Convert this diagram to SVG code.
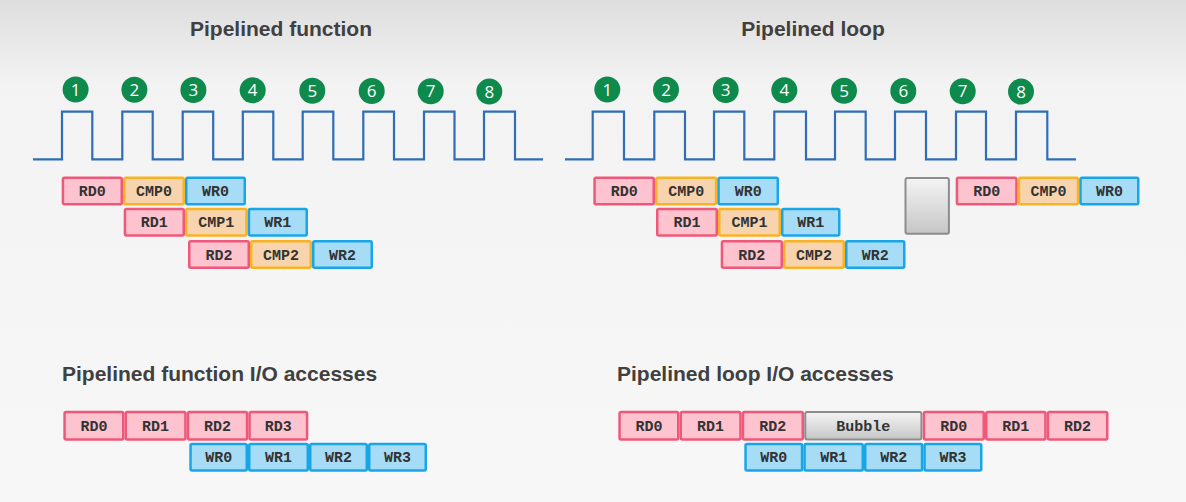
<svg xmlns="http://www.w3.org/2000/svg" width="1186" height="502" viewBox="0 0 1186 502">
<defs>
<linearGradient id="bg" x1="0" y1="0" x2="0" y2="1">
<stop offset="0" stop-color="#dedede"/>
<stop offset="0.17" stop-color="#f3f3f3"/>
<stop offset="1" stop-color="#f7f7f7"/>
</linearGradient>
<linearGradient id="gray" x1="0" y1="0" x2="0" y2="1">
<stop offset="0" stop-color="#f4f4f4"/>
<stop offset="1" stop-color="#c6c6c6"/>
</linearGradient>
<style>
.title{font-family:"Liberation Sans",Arial,sans-serif;font-weight:bold;font-size:21px;fill:#404040}
.clk{fill:none;stroke:#2f6db5;stroke-width:2.2;stroke-linejoin:miter}
.num{fill:#0e8a4c}
.numt{font-family:"Open Sans","Liberation Sans",sans-serif;font-size:17px;fill:#ffffff;text-anchor:middle}
.rd{fill:#fdc3cf;stroke:#f0587a;stroke-width:2.5}
.cmp{fill:#f8d4ae;stroke:#f8b324;stroke-width:2.5}
.wr{fill:#a6dcf5;stroke:#18a6e8;stroke-width:2.5}
.bub{fill:url(#gray);stroke:#8c8c8c;stroke-width:2}
.lbl{font-family:"Liberation Mono","Courier New",monospace;font-weight:bold;font-size:15px;fill:#333333;text-anchor:middle}
</style>
</defs>
<rect x="0" y="0" width="1186" height="502" fill="url(#bg)"/>

<g id="titles">
<text class="title" x="281" y="36" text-anchor="middle">Pipelined function</text>
<text class="title" x="813" y="36" text-anchor="middle">Pipelined loop</text>
<text class="title" x="62" y="381">Pipelined function I/O accesses</text>
<text class="title" x="617" y="381">Pipelined loop I/O accesses</text>
</g>

<g id="clock-left">
<polyline class="clk" points="33,159.3 62,159.3 62,111.7 92.3,111.7 92.3,159.3 122.3,159.3 122.3,111.7 152.7,111.7 152.7,159.3 182.7,159.3 182.7,111.7 213.2,111.7 213.2,159.3 242.8,159.3 242.8,111.7 273.3,111.7 273.3,159.3 302.7,159.3 302.7,111.7 333.3,111.7 333.3,159.3 363.3,159.3 363.3,111.7 394,111.7 394,159.3 424,159.3 424,111.7 454.5,111.7 454.5,159.3 484,159.3 484,111.7 515,111.7 515,159.3 543,159.3"/>
</g>
<g id="clock-right">
<polyline class="clk" points="565,159.3 592.7,159.3 592.7,111.7 624,111.7 624,159.3 654.3,159.3 654.3,111.7 685,111.7 685,159.3 714,159.3 714,111.7 744.3,111.7 744.3,159.3 774.3,159.3 774.3,111.7 806,111.7 806,159.3 835,159.3 835,111.7 865.7,111.7 865.7,159.3 895,159.3 895,111.7 926,111.7 926,159.3 956,159.3 956,111.7 986,111.7 986,159.3 1016,159.3 1016,111.7 1047.3,111.7 1047.3,159.3 1076,159.3"/>
</g>

<g id="cycles-left">
<g id="cl1"><circle class="num" cx="75.6" cy="89.5" r="13"/><text class="numt" x="75.6" y="95.5">1</text></g>
<g id="cl2"><circle class="num" cx="134.4" cy="89.7" r="13"/><text class="numt" x="134.4" y="95.7">2</text></g>
<g id="cl3"><circle class="num" cx="193.4" cy="90" r="13"/><text class="numt" x="193.4" y="96">3</text></g>
<g id="cl4"><circle class="num" cx="252.7" cy="90.3" r="13"/><text class="numt" x="252.7" y="96.3">4</text></g>
<g id="cl5"><circle class="num" cx="312.3" cy="90.8" r="13"/><text class="numt" x="312.3" y="96.8">5</text></g>
<g id="cl6"><circle class="num" cx="371.7" cy="91" r="13"/><text class="numt" x="371.7" y="97">6</text></g>
<g id="cl7"><circle class="num" cx="430.7" cy="91.3" r="13"/><text class="numt" x="430.7" y="97.3">7</text></g>
<g id="cl8"><circle class="num" cx="489.3" cy="91.6" r="13"/><text class="numt" x="489.3" y="97.6">8</text></g>
</g>
<g id="cycles-right">
<g id="cr1"><circle class="num" cx="607.3" cy="89.5" r="13"/><text class="numt" x="607.3" y="95.5">1</text></g>
<g id="cr2"><circle class="num" cx="666" cy="89.7" r="13"/><text class="numt" x="666" y="95.7">2</text></g>
<g id="cr3"><circle class="num" cx="725.7" cy="90" r="13"/><text class="numt" x="725.7" y="96">3</text></g>
<g id="cr4"><circle class="num" cx="784.3" cy="90.3" r="13"/><text class="numt" x="784.3" y="96.3">4</text></g>
<g id="cr5"><circle class="num" cx="844" cy="90.8" r="13"/><text class="numt" x="844" y="96.8">5</text></g>
<g id="cr6"><circle class="num" cx="903.3" cy="91" r="13"/><text class="numt" x="903.3" y="97">6</text></g>
<g id="cr7"><circle class="num" cx="962.7" cy="91.3" r="13"/><text class="numt" x="962.7" y="97.3">7</text></g>
<g id="cr8"><circle class="num" cx="1021" cy="91.6" r="13"/><text class="numt" x="1021" y="97.6">8</text></g>
</g>

<g id="pf-rd0"><rect class="rd" x="62.95" y="177.75" width="58.8" height="26.5" rx="1.5"/><text class="lbl" x="92.35" y="196">RD0</text></g>
<g id="pf-cmp0"><rect class="cmp" x="124.25" y="177.75" width="59.5" height="26.5" rx="1.5"/><text class="lbl" x="154" y="196">CMP0</text></g>
<g id="pf-wr0"><rect class="wr" x="186.25" y="177.75" width="58.5" height="26.5" rx="1.5"/><text class="lbl" x="215.5" y="196">WR0</text></g>
<g id="pf-rd1"><rect class="rd" x="124.95" y="208.95" width="58.8" height="26.5" rx="1.5"/><text class="lbl" x="154.35" y="227.2">RD1</text></g>
<g id="pf-cmp1"><rect class="cmp" x="186.25" y="208.95" width="60.2" height="26.5" rx="1.5"/><text class="lbl" x="216.35" y="227.2">CMP1</text></g>
<g id="pf-wr1"><rect class="wr" x="248.95" y="208.95" width="57.8" height="26.5" rx="1.5"/><text class="lbl" x="277.85" y="227.2">WR1</text></g>
<g id="pf-rd2"><rect class="rd" x="189.25" y="241.25" width="59.5" height="26.5" rx="1.5"/><text class="lbl" x="219" y="259.5">RD2</text></g>
<g id="pf-cmp2"><rect class="cmp" x="251.25" y="241.25" width="59.5" height="26.5" rx="1.5"/><text class="lbl" x="281" y="259.5">CMP2</text></g>
<g id="pf-wr2"><rect class="wr" x="313.25" y="241.25" width="58.5" height="26.5" rx="1.5"/><text class="lbl" x="342.5" y="259.5">WR2</text></g>

<g id="pl-rd0"><rect class="rd" x="594.55" y="177.75" width="59.2" height="26.5" rx="1.5"/><text class="lbl" x="624.15" y="196">RD0</text></g>
<g id="pl-cmp0"><rect class="cmp" x="656.25" y="177.75" width="59.8" height="26.5" rx="1.5"/><text class="lbl" x="686.15" y="196">CMP0</text></g>
<g id="pl-wr0"><rect class="wr" x="718.55" y="177.75" width="59.2" height="26.5" rx="1.5"/><text class="lbl" x="748.15" y="196">WR0</text></g>
<g id="pl-rd1"><rect class="rd" x="657.25" y="208.95" width="59.5" height="26.5" rx="1.5"/><text class="lbl" x="687" y="227.2">RD1</text></g>
<g id="pl-cmp1"><rect class="cmp" x="719.25" y="208.95" width="60.5" height="26.5" rx="1.5"/><text class="lbl" x="749.5" y="227.2">CMP1</text></g>
<g id="pl-wr1"><rect class="wr" x="782.25" y="208.95" width="57" height="26.5" rx="1.5"/><text class="lbl" x="810.75" y="227.2">WR1</text></g>
<g id="pl-rd2"><rect class="rd" x="721.95" y="241.25" width="59.8" height="26.5" rx="1.5"/><text class="lbl" x="751.85" y="259.5">RD2</text></g>
<g id="pl-cmp2"><rect class="cmp" x="784.25" y="241.25" width="59.5" height="26.5" rx="1.5"/><text class="lbl" x="814" y="259.5">CMP2</text></g>
<g id="pl-wr2"><rect class="wr" x="846.25" y="241.25" width="58" height="26.5" rx="1.5"/><text class="lbl" x="875.25" y="259.5">WR2</text></g>
<g id="pl-bubble"><rect class="bub" x="905.5" y="178" width="43.4" height="55.8" rx="2"/></g>
<g id="pl-rd0b"><rect class="rd" x="956.95" y="177.75" width="59.5" height="26.5" rx="1.5"/><text class="lbl" x="986.7" y="196">RD0</text></g>
<g id="pl-cmp0b"><rect class="cmp" x="1018.95" y="177.75" width="59.1" height="26.5" rx="1.5"/><text class="lbl" x="1048.5" y="196">CMP0</text></g>
<g id="pl-wr0b"><rect class="wr" x="1080.55" y="177.75" width="57.7" height="26.5" rx="1.5"/><text class="lbl" x="1109.4" y="196">WR0</text></g>

<g id="fio-rd0"><rect class="rd" x="64.55" y="411.95" width="58.7" height="27.5" rx="1.5"/><text class="lbl" x="93.9" y="430.7">RD0</text></g>
<g id="fio-rd1"><rect class="rd" x="125.75" y="411.95" width="59.7" height="27.5" rx="1.5"/><text class="lbl" x="155.6" y="430.7">RD1</text></g>
<g id="fio-rd2"><rect class="rd" x="187.95" y="411.95" width="59.1" height="27.5" rx="1.5"/><text class="lbl" x="217.5" y="430.7">RD2</text></g>
<g id="fio-rd3"><rect class="rd" x="249.55" y="411.95" width="57.5" height="27.5" rx="1.5"/><text class="lbl" x="278.3" y="430.7">RD3</text></g>
<g id="fio-wr0"><rect class="wr" x="190.55" y="443.95" width="56.2" height="26.5" rx="1.5"/><text class="lbl" x="218.65" y="462.2">WR0</text></g>
<g id="fio-wr1"><rect class="wr" x="249.25" y="443.95" width="58.5" height="26.5" rx="1.5"/><text class="lbl" x="278.5" y="462.2">WR1</text></g>
<g id="fio-wr2"><rect class="wr" x="310.25" y="443.95" width="56.5" height="26.5" rx="1.5"/><text class="lbl" x="338.5" y="462.2">WR2</text></g>
<g id="fio-wr3"><rect class="wr" x="369.25" y="443.95" width="56.5" height="26.5" rx="1.5"/><text class="lbl" x="397.5" y="462.2">WR3</text></g>

<g id="lio-rd0"><rect class="rd" x="619.55" y="411.95" width="58.7" height="27.5" rx="1.5"/><text class="lbl" x="648.9" y="430.7">RD0</text></g>
<g id="lio-rd1"><rect class="rd" x="680.75" y="411.95" width="59.7" height="27.5" rx="1.5"/><text class="lbl" x="710.6" y="430.7">RD1</text></g>
<g id="lio-rd2"><rect class="rd" x="742.95" y="411.95" width="59.8" height="27.5" rx="1.5"/><text class="lbl" x="772.85" y="430.7">RD2</text></g>
<g id="lio-bubble"><rect class="bub" x="805.25" y="412" width="116.2" height="27.4" rx="2"/><text class="lbl" x="863.35" y="430.7">Bubble</text></g>
<g id="lio-rd0b"><rect class="rd" x="923.95" y="411.95" width="59.8" height="27.5" rx="1.5"/><text class="lbl" x="953.85" y="430.7">RD0</text></g>
<g id="lio-rd1b"><rect class="rd" x="986.25" y="411.95" width="59.2" height="27.5" rx="1.5"/><text class="lbl" x="1015.85" y="430.7">RD1</text></g>
<g id="lio-rd2b"><rect class="rd" x="1047.95" y="411.95" width="59.3" height="27.5" rx="1.5"/><text class="lbl" x="1077.6" y="430.7">RD2</text></g>
<g id="lio-wr0"><rect class="wr" x="745.55" y="443.95" width="56.5" height="26.5" rx="1.5"/><text class="lbl" x="773.8" y="462.2">WR0</text></g>
<g id="lio-wr1"><rect class="wr" x="804.55" y="443.95" width="58.2" height="26.5" rx="1.5"/><text class="lbl" x="833.65" y="462.2">WR1</text></g>
<g id="lio-wr2"><rect class="wr" x="865.25" y="443.95" width="56.8" height="26.5" rx="1.5"/><text class="lbl" x="893.65" y="462.2">WR2</text></g>
<g id="lio-wr3"><rect class="wr" x="924.55" y="443.95" width="56.7" height="26.5" rx="1.5"/><text class="lbl" x="952.9" y="462.2">WR3</text></g>

<g id="connectors"></g>
</svg>
